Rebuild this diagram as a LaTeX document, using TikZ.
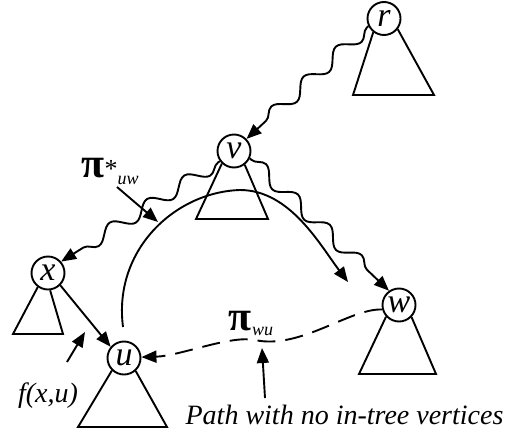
\documentclass[tikz,border=0pt]{standalone}
\usepackage{fontspec}
\setmainfont{Liberation Serif}
\usetikzlibrary{arrows.meta,decorations.pathmorphing}
\begin{document}
\begin{tikzpicture}[x=1pt,y=-1pt, line width=1.9pt,
  vtx/.style={circle, draw, minimum size=33pt, inner sep=0pt, font=\fontsize{34}{34}\selectfont\itshape},
  tip/.style={-{Triangle[length=15pt,width=12pt]}},
  wavy/.style={decorate, decoration={snake, amplitude=7pt, segment length=44pt, pre length=2pt, post length=18pt}},
  lbl/.style={font=\fontsize{28}{28}\selectfont\itshape, inner sep=0pt}]
\path[use as bounding box] (0,0) rectangle (518,439);
% vertices
\node[vtx] (r) at (384,18.5) {r};
\node[vtx] (v) at (234,151) {v};
\node[vtx] (x) at (48,273) {x};
\node[vtx] (u) at (124,358) {u};
\node[vtx] (w) at (399,305) {w};
% subtrees
\draw (r.232) -- (353,95) -- (434,95) -- (r.322);
\draw (v.226) -- (196,219) -- (268,219) -- (v.308);
\draw (x.234) -- (13,334) -- (63,334) -- (x.277);
\draw (u.226) -- (78,427) -- (167,427) -- (u.312);
\draw (w.222) -- (359,374) -- (436,374) -- (w.316);
% tree paths
\draw[wavy, tip] (r.206) -- (v.44);
\draw[wavy, tip] (v.216) -- (x.41);
\draw[wavy, tip] (v.335) -- (w.125);
\draw[tip] (x.315) -- (u.140);
% pi* path
\coordinate (cs) at (123,327);
\coordinate (ce) at (348,282);
\draw[tip] (cs) .. controls (113,250) and (175,192) .. (240,190) .. controls (290,190) and (320,245) .. (ce);
% pi_wu path
\draw[tip, dash pattern=on 18pt off 10pt] (w.195) .. controls (350,308) and (300,350) .. (255,340) .. controls (230,335) and (180,356) .. (u.3);
% labels
\node[inner sep=0pt] (pis) at (110,171) {\fontsize{42}{42}\selectfont\bfseries π\mdseries{\fontsize{26}{26}\selectfont *}\raisebox{-7pt}{\fontsize{18}{18}\selectfont\itshape uw}};
\node[inner sep=0pt] (pwu) at (251,323) {\fontsize{42}{42}\selectfont\bfseries π\mdseries\raisebox{-5pt}{\fontsize{18}{18}\selectfont\itshape wu}};
\node[lbl, anchor=base] (fxu) at (48,402) {f(x,u)};
\node[lbl, anchor=base] (pth) at (344.5,424) {Path with no in-tree vertices};
\coordinate (pisa) at (117,187);
\coordinate (pist) at (158,222);
\draw[tip] (pisa) -- (pist);
\coordinate (fa) at (67,362);
\coordinate (ft) at (85,332);
\draw[tip] (fa) -- (ft);
\coordinate (pa) at (265,398);
\coordinate (pt) at (262,348);
\draw[tip] (pa) -- (pt);
\end{tikzpicture}
\end{document}
